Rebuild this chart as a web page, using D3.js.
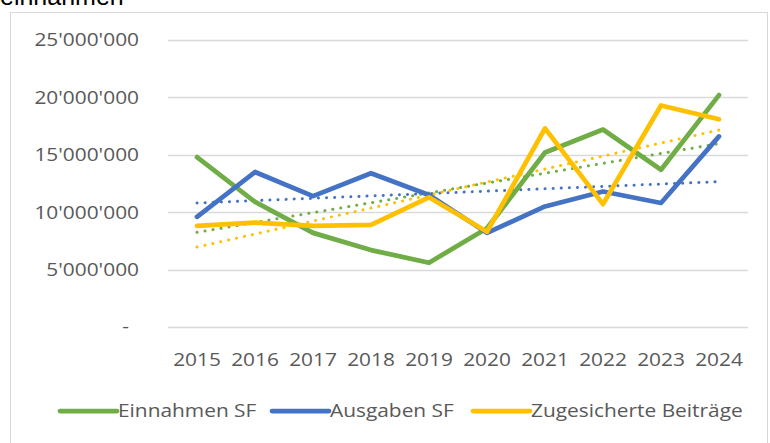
<!DOCTYPE html>
<html>
<head>
<meta charset="utf-8">
<script src="https://cdn.jsdelivr.net/npm/d3@7"></script>
<style>
  html, body { margin: 0; padding: 0; background: #fff; }
  svg { display: block; font-family: "Open Sans", sans-serif; }
</style>
</head>
<body>
<script>
// chart data
const years = ['2015', '2016', '2017', '2018', '2019', '2020', '2021', '2022', '2023', '2024'];
const einnahmen = [14800000, 10900000, 8200000, 6700000, 5600000, 8600000, 15200000, 17200000, 13700000, 20200000];
const ausgaben = [9600000, 13500000, 11400000, 13400000, 11500000, 8200000, 10500000, 11800000, 10800000, 16600000];
const beitraege = [8800000, 9100000, 8800000, 8900000, 11300000, 8300000, 17300000, 10700000, 19300000, 18100000];
const yTicks = [0, 5000000, 10000000, 15000000, 20000000, 25000000];
const seriesNames = ['Einnahmen SF', 'Ausgaben SF', 'Zugesicherte Beiträge'];

const W = 770, H = 443;
const colors = ['#70AD47', '#4472C4', '#FFC000'];
const FS = 18, STRETCH = 1.16; // reference text is a bit wide
const series = [einnahmen, ausgaben, beitraege].map((values, i) => ({
  name: seriesNames[i], color: colors[i], values
}));

const svg = d3.select('body').append('svg').attr('width', W).attr('height', H);

// place a horizontally stretched text
function wideText(sel, fx, fy) {
  sel.attr('transform', (d, i) => `translate(${fx(d, i)},${fy(d, i)}) scale(${STRETCH},1)`)
    .attr('font-size', FS)
    .attr('fill', '#595959');
}

// chart area border
svg.append('rect')
  .attr('x', 10.5).attr('y', 12.5)
  .attr('width', 757).attr('height', 440)
  .attr('fill', 'none').attr('stroke', '#D9D9D9');

// title, cut off by the top edge as in the reference
svg.append('text')
  .attr('x', 0).attr('y', 5)
  .attr('font-family', '"Liberation Sans", Arial, sans-serif')
  .attr('font-size', 25).attr('fill', '#000')
  .text('einnahmen');

const x = d3.scalePoint().domain(years).range([168, 748]).padding(0.5);
const y = d3.scaleLinear().domain([0, 25000000]).range([327, 40]);

const fmt = (v) => v === 0 ? '-' : d3.format(',')(v).replace(/,/g, "'");

// gridlines
svg.append('g')
  .selectAll('line')
  .data(yTicks)
  .join('line')
  .attr('x1', 168).attr('x2', 748)
  .attr('y1', (d) => Math.round(y(d)) + 0.5)
  .attr('y2', (d) => Math.round(y(d)) + 0.5)
  .attr('stroke', '#D9D9D9').attr('stroke-width', 1.3);

// y labels
svg.append('g')
  .selectAll('text')
  .data(yTicks)
  .join('text')
  .attr('dy', '0.35em')
  .attr('text-anchor', 'end')
  .call(wideText, (d) => d === 0 ? 129 : 139, (d) => y(d))
  .text(fmt);

// x labels
svg.append('g')
  .selectAll('text')
  .data(years)
  .join('text')
  .attr('text-anchor', 'middle')
  .call(wideText, (d) => x(d), () => 366)
  .text((d) => d);

const line = d3.line()
  .x((d, i) => x(years[i]))
  .y((d) => y(d));

// linear trendlines (least squares, as in the spreadsheet)
function trend(values) {
  const idx = values.map((d, i) => i + 1);
  const mx = d3.mean(idx), my = d3.mean(values);
  const b = d3.sum(idx, (t, i) => (t - mx) * (values[i] - my)) / d3.sum(idx, (t) => (t - mx) ** 2);
  const a = my - b * mx;
  return [a + b * 1, a + b * values.length];
}

series.forEach((s) => {
  const [t0, t1] = trend(s.values);
  svg.append('line')
    .attr('x1', x(years[0])).attr('x2', x(years[years.length - 1]))
    .attr('y1', y(t0)).attr('y2', y(t1))
    .attr('stroke', s.color)
    .attr('stroke-width', 3)
    .attr('stroke-linecap', 'round')
    .attr('stroke-dasharray', '0.1 8');
});

series.forEach((s) => {
  svg.append('path')
    .datum(s.values)
    .attr('d', line)
    .attr('fill', 'none')
    .attr('stroke', s.color)
    .attr('stroke-width', 4.75)
    .attr('stroke-linejoin', 'round')
    .attr('stroke-linecap', 'round');
});

// legend
const legendX = [60, 272, 473];
const legend = svg.append('g');
series.forEach((s, i) => {
  const g = legend.append('g').attr('transform', `translate(${legendX[i]}, 411)`);
  g.append('line')
    .attr('x1', 0).attr('x2', 57)
    .attr('stroke', s.color).attr('stroke-width', 4.75)
    .attr('stroke-linecap', 'round');
  g.append('text')
    .datum(s.name)
    .attr('dy', '0.35em')
    .call(wideText, () => 58, () => 0)
    .text((d) => d);
});
</script>
</body>
</html>
